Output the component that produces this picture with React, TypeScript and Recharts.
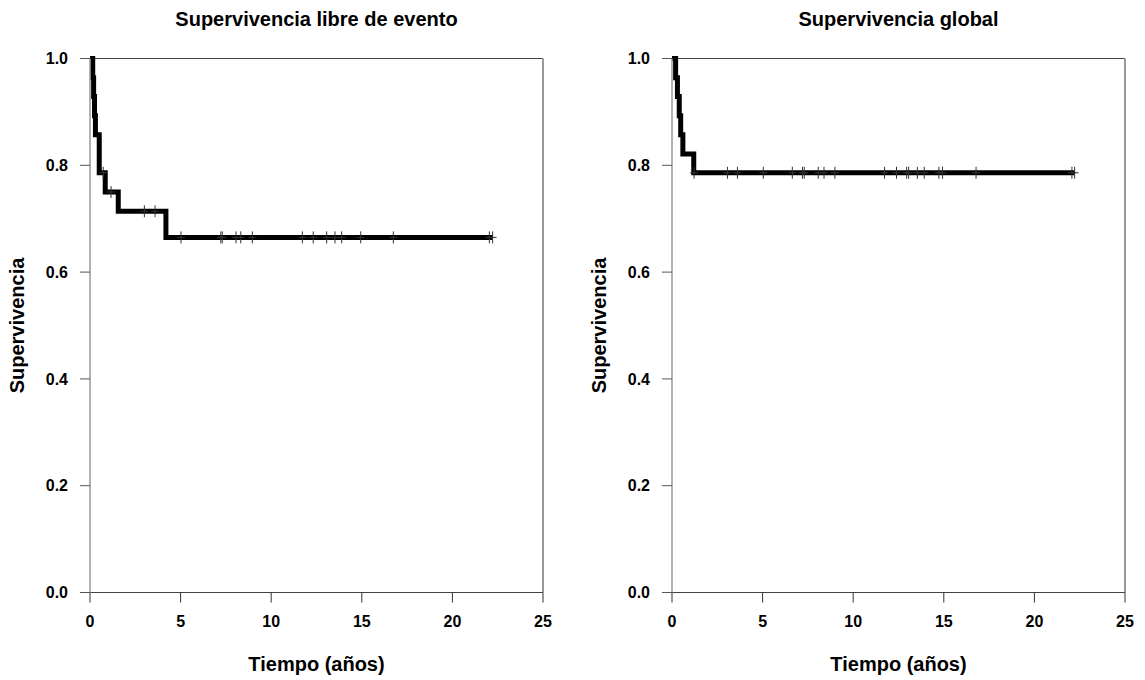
import React from 'react';
import { ComposedChart, Line, Scatter, XAxis, YAxis, ReferenceLine } from 'recharts';

// Kaplan-Meier steps (years, survival)
const efsTimes = [0, 0.15, 0.2, 0.25, 0.3, 0.51, 0.84, 1.56, 4.19, 22.22];
const efsSurv = [1.0, 0.964, 0.929, 0.893, 0.857, 0.786, 0.75, 0.714, 0.665, 0.665];
const efsCensored = [0.73, 1.16, 3.0, 3.59, 5.02, 7.22, 7.3, 8.06, 8.32, 8.96, 11.72, 12.32, 13.06, 13.52, 13.89, 14.94, 16.74, 22.04, 22.22];

const osTimes = [0, 0.2, 0.3, 0.4, 0.48, 0.6, 1.2, 22.22];
const osSurv = [1.0, 0.964, 0.929, 0.893, 0.857, 0.821, 0.786, 0.786];
const osCensored = [1.22, 3.06, 3.61, 5.04, 6.64, 7.2, 7.3, 8.07, 8.39, 8.99, 11.73, 12.39, 12.95, 13.06, 13.54, 13.92, 14.73, 14.93, 16.78, 22.07, 22.22];

const xTicks = [0, 5, 10, 15, 20, 25];
const yTicks = [0, 0.2, 0.4, 0.6, 0.8, 1.0];

const FONT = '"Liberation Sans", Arial, sans-serif';

const survivalAt = (times: number[], surv: number[], t: number) => {
  let s = surv[0];
  times.forEach((ti, i) => {
    if (ti <= t) s = surv[i];
  });
  return s;
};

const CensorMark = (props: any) => {
  const { cx, cy } = props;
  if (cx == null || cy == null) return null;
  return (
    <path
      d={`M${cx - 4},${cy}h8M${cx},${cy - 6}v12`}
      stroke="#333"
      strokeWidth={1}
      fill="none"
    />
  );
};

interface PanelProps {
  title: string;
  times: number[];
  surv: number[];
  censored: number[];
  width: number;
  left: number;
}

const Panel: React.FC<PanelProps> = ({ title, times, surv, censored, width, left }) => {
  const curve = times.map((t, i) => ({ t, s: surv[i] }));
  const marks = censored.map((t) => ({ t, s: survivalAt(times, surv, t) }));
  const labelStyle = { fontFamily: FONT, fontWeight: 700, fontSize: 20, fill: '#000' };

  return (
    <div style={{ position: 'absolute', left, top: 0, width, height: 680 }}>
      <div
        style={{
          position: 'absolute',
          left: 90,
          width: 453,
          top: 7,
          textAlign: 'center',
          fontFamily: FONT,
          fontWeight: 700,
          fontSize: 20,
          lineHeight: '24px',
          color: '#000',
        }}
      >
        {title}
      </div>
      <ComposedChart
        width={width}
        height={680}
        margin={{ top: 58.5, right: width - 543, left: 0, bottom: 0 }}
      >
        <XAxis
          type="number"
          dataKey="t"
          domain={[0, 25]}
          ticks={xTicks}
          allowDataOverflow
          height={87.5}
          tickSize={10}
          tickMargin={13}
          axisLine={{ stroke: '#444', strokeWidth: 1.2 }}
          tickLine={{ stroke: '#333' }}
          tick={{ fontFamily: FONT, fontWeight: 700, fontSize: 16, fill: '#000' }}
          label={{
            content: (p: any) => {
              const vb = p.viewBox || {};
              return (
                <text
                  x={vb.x + vb.width / 2}
                  y={vb.y + 71}
                  textAnchor="middle"
                  dominantBaseline="central"
                  style={labelStyle}
                >
                  Tiempo (años)
                </text>
              );
            },
          }}
        />
        <YAxis
          type="number"
          dataKey="s"
          domain={[0, 1]}
          ticks={yTicks}
          width={90}
          tickSize={10}
          tickMargin={12}
          tickFormatter={(v: number) => v.toFixed(1)}
          axisLine={{ stroke: '#999', strokeWidth: 1.5 }}
          tickLine={{ stroke: '#555' }}
          tick={{ fontFamily: FONT, fontWeight: 700, fontSize: 16, fill: '#000' }}
          label={{
            content: (p: any) => {
              const vb = p.viewBox || {};
              const cx = vb.x + 17;
              const cy = vb.y + vb.height / 2;
              return (
                <text
                  x={cx}
                  y={cy}
                  transform={`rotate(-90 ${cx} ${cy})`}
                  textAnchor="middle"
                  dominantBaseline="central"
                  style={labelStyle}
                >
                  Supervivencia
                </text>
              );
            },
          }}
        />
        <ReferenceLine y={1} stroke="#444" strokeWidth={1.2} />
        <ReferenceLine x={25} stroke="#999" strokeWidth={2} />
        <Line
          data={curve}
          dataKey="s"
          type="stepAfter"
          stroke="#000"
          strokeWidth={5}
          dot={false}
          activeDot={false}
          isAnimationActive={false}
        />
        <Scatter data={marks} dataKey="s" shape={CensorMark} isAnimationActive={false} />
      </ComposedChart>
    </div>
  );
};

export default function App() {
  return (
    <div style={{ position: 'absolute', left: 0, top: 0, width: 1145, height: 680, background: '#fff' }}>
      <Panel
        title="Supervivencia libre de evento"
        times={efsTimes}
        surv={efsSurv}
        censored={efsCensored}
        width={572}
        left={0}
      />
      <Panel
        title="Supervivencia global"
        times={osTimes}
        surv={osSurv}
        censored={osCensored}
        width={563}
        left={582}
      />
    </div>
  );
}
